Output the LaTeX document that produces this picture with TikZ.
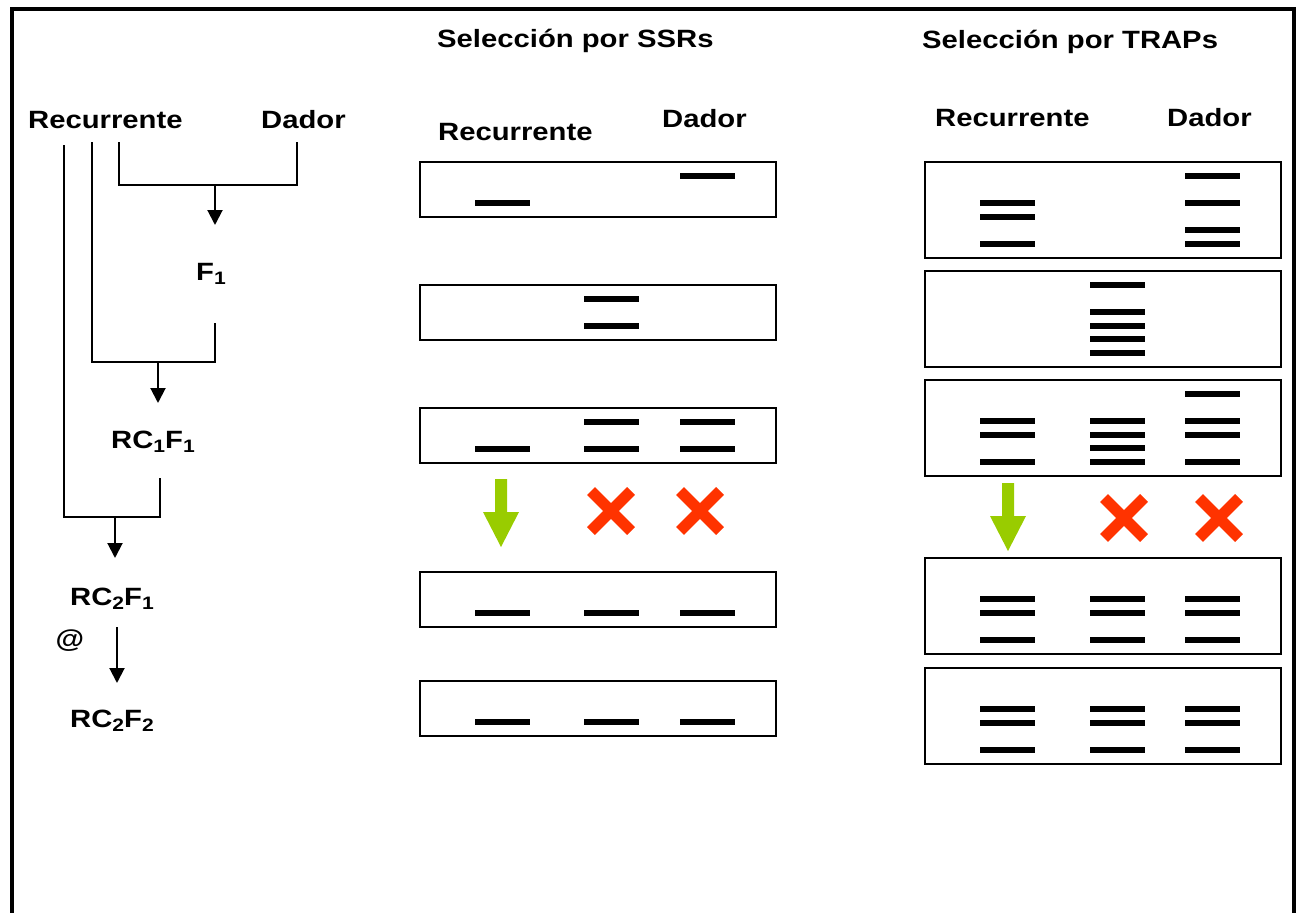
\documentclass[tikz,border=0pt]{standalone}
\usepackage{fontspec}
\setmainfont[FakeStretch=1.17]{Liberation Sans}
\usetikzlibrary{arrows.meta}

\definecolor{keep}{HTML}{99CC00}
\definecolor{drop}{HTML}{FF3300}

% bands of one lane: \bands{top of gel}{left x of lane}{slots}
\newcommand{\bands}[3]{%
  \foreach \k in {#3}
    \draw[band] (#2,{#1+14+13.6*\k}) -- ++(55,0);}
\newcommand{\idx}[1]{\raisebox{-4pt}{\fontsize{18}{20}\selectfont #1}}

\begin{document}
\begin{tikzpicture}[x=1pt,y=-1pt,>={Triangle[length=15pt,width=15pt]},
    lbl/.style={font=\fontsize{25}{30}\selectfont\bfseries,inner sep=0pt,anchor=base west},
    tree/.style={line width=2pt},
    gel/.style={draw,line width=2.5pt},
    band/.style={line width=6pt},
    keeparrow/.style={fill=keep},
    dropmark/.style={draw=drop,line width=11pt}]

  \useasboundingbox (0,0) rectangle (1299,913);
  \draw[line width=4.5pt] (12,913) -- (12,9) -- (1294,9) -- (1294,913);

  % crossing scheme
  \node[lbl] (rec) at (28,128) {Recurrente};
  \node[lbl] (dad) at (261,128) {Dador};
  \node[lbl] (f1) at (196,280) {F\idx{1}};
  \node[lbl] (rc1) at (111,448) {RC\idx{1}F\idx{1}};
  \node[lbl] (rc2) at (70,605) {RC\idx{2}F\idx{1}};
  \node[lbl,anchor=center] (at) at (70,641) {@};
  \node[lbl] (rc22) at (70,727) {RC\idx{2}F\idx{2}};

  \coordinate (r0) at (64,145);
  \coordinate (r1) at (92,142);
  \coordinate (r2) at (119,142);
  \coordinate (d0) at (297,142);
  \coordinate (m1) at (215,185);
  \coordinate (t1) at (215,225);
  \coordinate (f1b) at (215,323);
  \coordinate (m2) at (158,362);
  \coordinate (t2) at (158,403);
  \coordinate (rc1b) at (160,478);
  \coordinate (m3) at (115,517);
  \coordinate (t3) at (115,558);
  \coordinate (rc2b) at (117,627);
  \coordinate (t4) at (117,683);

  \draw[tree] (r2) |- (m1) -| (d0);
  \draw[tree,->] (m1) -- (t1);
  \draw[tree] (r1) |- (m2) -| (f1b);
  \draw[tree,->] (m2) -- (t2);
  \draw[tree] (r0) |- (m3) -| (rc1b);
  \draw[tree,->] (m3) -- (t3);
  \draw[tree,->] (rc2b) -- (t4);

  % SSR gels
  \node[lbl] (ssr) at (437,47) {Selección por SSRs};
  \node[lbl] (ssrrec) at (438,140) {Recurrente};
  \node[lbl] (ssrdad) at (662,127) {Dador};
  \foreach \t in {162,285,408,572,681}
    \draw[gel] (420,\t) rectangle ++(356,55);
  \bands{162}{475}{2} \bands{162}{680}{0}
  \bands{285}{584}{0,2}
  \bands{408}{475}{2} \bands{408}{584}{0,2} \bands{408}{680}{0,2}
  \foreach \t in {572,681}
    {\bands{\t}{475}{2} \bands{\t}{584}{2} \bands{\t}{680}{2}}

  % TRAP gels
  \node[lbl] (trap) at (922,48) {Selección por TRAPs};
  \node[lbl] (traprec) at (935,126) {Recurrente};
  \node[lbl] (trapdad) at (1167,126) {Dador};
  \foreach \t in {162,271,380,558,668}
    \draw[gel] (925,\t) rectangle ++(356,96);
  \bands{162}{980}{2,3,5} \bands{162}{1185}{0,2,4,5}
  \bands{271}{1090}{0,2,3,4,5}
  \bands{380}{980}{2,3,5} \bands{380}{1090}{2,3,4,5} \bands{380}{1185}{0,2,3,5}
  \foreach \t in {558,668}
    {\bands{\t}{980}{2,3,5} \bands{\t}{1090}{2,3,5} \bands{\t}{1185}{2,3,5}}

  % kept / discarded lanes
  \foreach \x/\y in {501/479,1008/483}
    \fill[keeparrow] (\x-6,\y) -- (\x+6,\y) -- (\x+6,\y+33) -- (\x+18,\y+33)
      -- (\x,\y+68) -- (\x-18,\y+33) -- (\x-6,\y+33) -- cycle;
  \foreach \x/\y in {611/511,700/511,1124/518,1219/518}
    \draw[dropmark] (\x-20,\y-20) -- (\x+20,\y+20) (\x-20,\y+20) -- (\x+20,\y-20);
\end{tikzpicture}
\end{document}
